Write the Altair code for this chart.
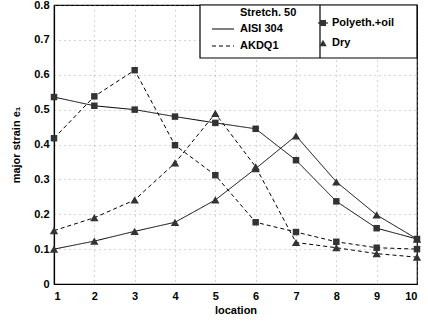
import altair as alt
import pandas as pd

locations = [1, 2, 3, 4, 5, 6, 7, 8, 9, 10]
aisi_poly = [0.536, 0.511, 0.500, 0.480, 0.462, 0.445, 0.355, 0.237, 0.160, 0.129]
aisi_dry = [0.100, 0.123, 0.151, 0.177, 0.241, 0.331, 0.425, 0.293, 0.198, 0.129]
akdq_poly = [0.418, 0.538, 0.613, 0.398, 0.312, 0.177, 0.149, 0.121, 0.104, 0.100]
akdq_dry = [0.153, 0.190, 0.241, 0.347, 0.489, 0.336, 0.119, 0.104, 0.087, 0.077]
materials = ["AISI 304", "AKDQ1"]
lubrications = ["Polyeth.+oil", "Dry"]
y_ticks = [0, 0.1, 0.2, 0.3, 0.4, 0.5, 0.6, 0.7, 0.8]

rows = []
for mat, lub, vals in [
    ("AISI 304", "Polyeth.+oil", aisi_poly),
    ("AISI 304", "Dry", aisi_dry),
    ("AKDQ1", "Polyeth.+oil", akdq_poly),
    ("AKDQ1", "Dry", akdq_dry),
]:
    for x, v in zip(locations, vals):
        rows.append(dict(location=x, strain=v, material=mat, lubrication=lub,
                         series=mat + " / " + lub))
df = pd.DataFrame(rows)

FONT = "Liberation Sans"
W, H = 363, 279

xenc = alt.X("location:Q", scale=alt.Scale(domain=[1, 10], nice=False),
             axis=alt.Axis(values=locations, title="location", grid=True,
                           ticks=False, labelPadding=6, titlePadding=3,
                           format="d"))
yenc = alt.Y("strain:Q", scale=alt.Scale(domain=[0, 0.8], nice=False),
             axis=alt.Axis(values=y_ticks, title="major strain e\u2081", grid=True,
                           ticks=False, labelPadding=5, titlePadding=12,
                           labelExpr="datum.value == 0 ? '0' : format(datum.value, '.1f')"))

lines = alt.Chart(df).mark_line(color="black", strokeWidth=1).encode(
    x=xenc, y=yenc,
    strokeDash=alt.StrokeDash("material:N",
                              scale=alt.Scale(domain=materials, range=[[1, 0], [4, 3]]),
                              legend=None),
    detail="series:N",
)

points = alt.Chart(df).mark_point(filled=True, color="#333333", opacity=1).encode(
    x=xenc, y=yenc,
    shape=alt.Shape("lubrication:N",
                    scale=alt.Scale(domain=lubrications, range=["square", "triangle-up"]),
                    legend=None),
    size=alt.Size("lubrication:N",
                  scale=alt.Scale(domain=lubrications, range=[42, 70]),
                  legend=None),
)

one = alt.Data(values=[{"k": 1}])

box = alt.Chart(one).mark_rect(fill="white", stroke="black", strokeWidth=1.2).encode(
    x=alt.value(146), x2=alt.value(363), y=alt.value(0), y2=alt.value(53))
divider = alt.Chart(one).mark_rule(color="black", strokeWidth=1.2).encode(
    x=alt.value(266), y=alt.value(0), y2=alt.value(53))
solid = alt.Chart(one).mark_rule(color="black", strokeWidth=1).encode(
    x=alt.value(158), x2=alt.value(180), y=alt.value(24))
dashed = alt.Chart(one).mark_rule(color="black", strokeWidth=1, strokeDash=[4, 3]).encode(
    x=alt.value(158), x2=alt.value(180), y=alt.value(41))
sq_line = alt.Chart(one).mark_rule(color="black", strokeWidth=1).encode(
    x=alt.value(264), x2=alt.value(274), y=alt.value(18))
sq = alt.Chart(one).mark_point(shape="square", filled=True, color="#333333",
                               opacity=1, size=36).encode(
    x=alt.value(269), y=alt.value(18))
tri = alt.Chart(one).mark_point(shape="triangle-up", filled=True, color="#333333",
                                opacity=1, size=55).encode(
    x=alt.value(269), y=alt.value(38))

def txt(s, x, y):
    return alt.Chart(one).mark_text(align="left", baseline="middle", font=FONT,
                                    fontSize=11, fontWeight="bold", color="black").encode(
        x=alt.value(x), y=alt.value(y), text=alt.value(s))

texts = [
    txt("Stretch. 50", 186, 8),
    txt("AISI 304", 186, 24),
    txt("AKDQ1", 186, 41),
    txt("Polyeth.+oil", 278, 18),
    txt("Dry", 278, 38),
]

chart = alt.layer(lines, points, box, divider, solid, dashed, sq_line, sq, tri, *texts).properties(
    width=W, height=H,
    autosize=alt.AutoSizeParams(type="none"),
    padding={"left": 54, "top": 5, "right": 11, "bottom": 40},
).configure_view(
    stroke="black", strokeWidth=1.2
).configure_axis(
    labelFont=FONT, titleFont=FONT, labelFontSize=11, titleFontSize=11,
    labelFontWeight="bold", titleFontWeight="bold",
    labelColor="black", titleColor="black",
    domainColor="black", domainWidth=1.2,
    gridColor="#888888", gridDash=[1, 4], gridWidth=1, gridOpacity=0.7,
)

chart.save("out.html", embed_options={"renderer": "svg", "actions": False})
